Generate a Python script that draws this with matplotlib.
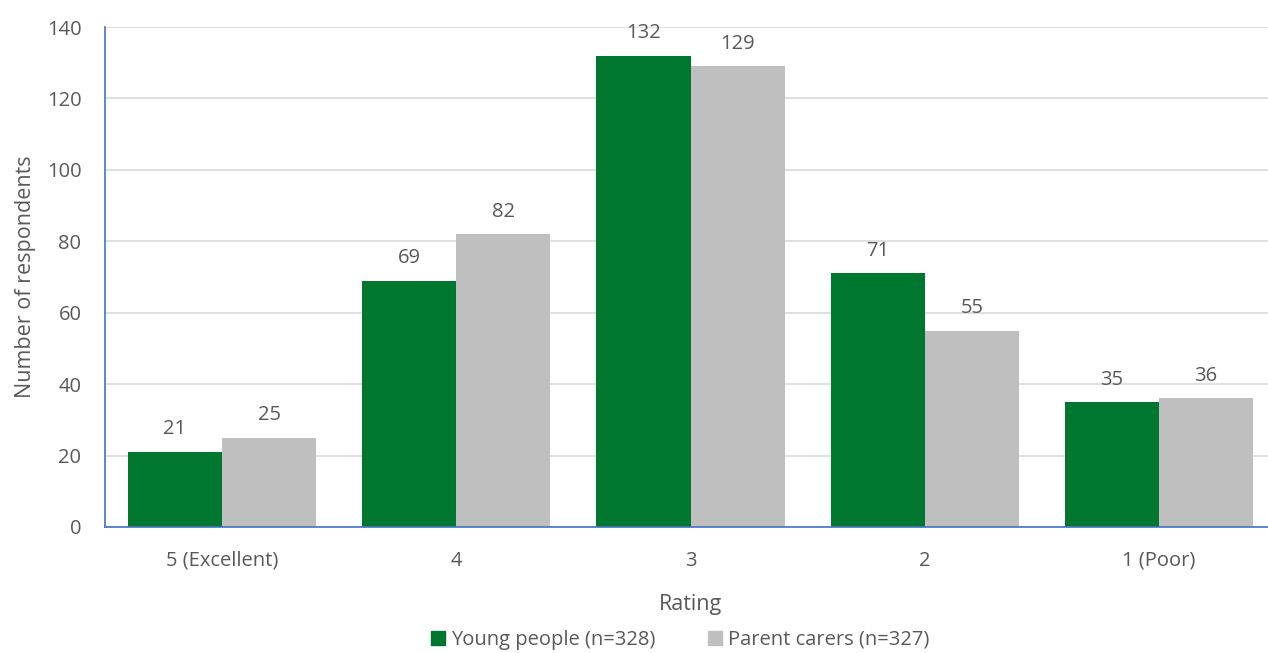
import matplotlib
matplotlib.use("Agg")
import matplotlib.pyplot as plt
import numpy as np
from matplotlib.patches import Patch

categories = ["5 (Excellent)", "4", "3", "2", "1 (Poor)"]
young_people = [21, 69, 132, 71, 35]
parent_carers = [25, 82, 129, 55, 36]
series_labels = ["Young people (n=328)", "Parent carers (n=327)"]

GREEN = "#00772F"
GREY = "#BFBFBF"
TEXT = "#595959"

plt.rcParams["font.family"] = ["Open Sans", "DejaVu Sans"]

fig = plt.figure(figsize=(12.68, 6.53), dpi=100)
ax = fig.add_axes([105 / 1268, 1 - 527 / 653, 1171 / 1268, (527 - 27) / 653])

x = np.arange(len(categories))
w = 0.402
b1 = ax.bar(x - w / 2, young_people, w, color=GREEN, zorder=3)
b2 = ax.bar(x + w / 2, parent_carers, w, color=GREY, zorder=3)

for bars, vals in ((b1, young_people), (b2, parent_carers)):
    for rect, v in zip(bars, vals):
        ax.annotate(str(v), (rect.get_x() + rect.get_width() / 2, v),
                    xytext=(0, 9), textcoords="offset points",
                    ha="center", va="bottom", fontsize=14.5, color=TEXT)

ax.set_xlim(-0.5, len(categories) - 0.5)
ax.set_ylim(0, 140)
ax.set_yticks(range(0, 141, 20))
ax.set_xticks(x)
ax.set_xticklabels(categories)
ax.tick_params(axis="both", length=0, labelsize=14.5, labelcolor=TEXT)
ax.tick_params(axis="x", pad=17)
ax.tick_params(axis="y", pad=17)

ax.yaxis.grid(True, color="#D9D9D9", linewidth=1.2, zorder=0)
for side in ("top", "right"):
    ax.spines[side].set_visible(False)
for side in ("left", "bottom"):
    ax.spines[side].set_color("#4472C4")
    ax.spines[side].set_linewidth(1.2)
ax.spines["left"].set_zorder(4)
ax.spines["bottom"].set_zorder(4)

ax.set_xlabel("Rating", fontsize=15.5, color=TEXT, labelpad=17)
ax.set_ylabel("Number of respondents", fontsize=15.5, color=TEXT, labelpad=8)

handles = [Patch(color=GREEN), Patch(color=GREY)]
fig.legend(handles, series_labels, loc="center", bbox_to_anchor=(680 / 1268, 1 - 640 / 653),
           ncol=2, frameon=False, fontsize=14.5, labelcolor=TEXT,
           handlelength=0.7, handleheight=0.7, handletextpad=0.3, columnspacing=2.6)

fig.savefig("out.png", dpi=100)
